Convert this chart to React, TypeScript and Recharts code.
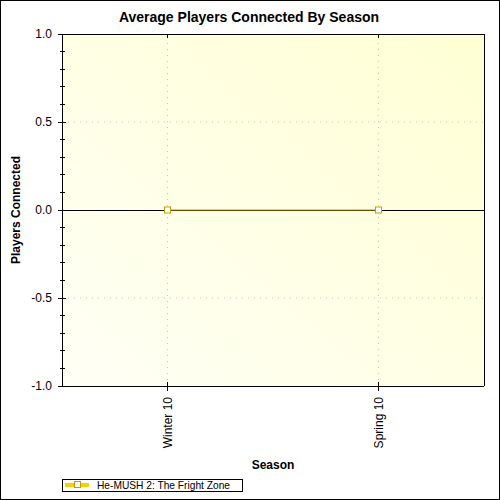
import { LineChart, Line, XAxis, YAxis, ReferenceLine, CartesianGrid } from 'recharts';

const SEASONS = ['Winter 10', 'Spring 10'];
const PLAYERS_CONNECTED = [0, 0];
const Y_TICKS = [
  -1.0, -0.9, -0.8, -0.7, -0.6, -0.5, -0.4, -0.3, -0.2, -0.1, 0, 0.1, 0.2, 0.3, 0.4, 0.5, 0.6, 0.7, 0.8, 0.9, 1.0
];
const GRID_Y = [-0.5, 0.5];
const SERIES_NAME = 'He-MUSH 2: The Fright Zone';
const TITLE = 'Average Players Connected By Season';
const X_TITLE = 'Season';
const Y_TITLE = 'Players Connected';

const FONT = '"Liberation Sans", Arial, sans-serif';
const LINE_COLOR = '#c89b00';
const LEGEND_BAR = '#f2d200';
const GRID_COLOR = '#c4c4c4';

const rows = SEASONS.map((season, i) => ({ season, players: PLAYERS_CONNECTED[i] }));

const isMajor = (v: number) => Math.abs(v * 2 - Math.round(v * 2)) < 1e-6;

const LeftTick = (props: any) => {
  const { x, y, payload } = props;
  const major = isMajor(payload.value);
  return (
    <g>
      <line x1={x - (major ? 4 : 2)} x2={x + (major ? 4 : 3)} y1={y} y2={y} stroke="#000" shapeRendering="crispEdges" />
      {major && (
        <text x={x - 10} y={y} dy={4} textAnchor="end" fontSize={12} fontFamily={FONT} fill="#000">
          {Number(payload.value).toFixed(1)}
        </text>
      )}
    </g>
  );
};

const RightTick = (props: any) => {
  const { x, y, payload } = props;
  const major = isMajor(payload.value);
  return <line x1={x - (major ? 5 : 3)} x2={x} y1={y} y2={y} stroke="#000" shapeRendering="crispEdges" />;
};

const BottomTick = (props: any) => {
  const { x, y, payload } = props;
  const ty = y + 11;
  return (
    <g>
      <line x1={x} x2={x} y1={y - 4} y2={y + 5} stroke="#000" shapeRendering="crispEdges" />
      <text
        x={x}
        y={ty}
        dy={4}
        textAnchor="end"
        fontSize={12}
        fontFamily={FONT}
        fill="#000"
        transform={`rotate(-90, ${x}, ${ty})`}
      >
        {payload.value}
      </text>
    </g>
  );
};

const TopTick = (props: any) => {
  const { x, y } = props;
  return <line x1={x} x2={x} y1={y} y2={y + 4} stroke="#000" shapeRendering="crispEdges" />;
};

const SquareDot = (props: any) => {
  const { cx, cy, index } = props;
  return (
    <rect key={`dot-${index}`} x={cx - 3} y={cy - 3} width={6} height={6} fill="#fff" stroke={LINE_COLOR} strokeWidth={1} />
  );
};

const axisLineStyle = { stroke: '#000', shapeRendering: 'crispEdges' };

export default function App() {
  return (
    <div style={{ position: 'absolute', left: 0, top: 0, width: 500, height: 500, background: '#fff' }}>
      <LineChart width={500} height={500} data={rows} margin={{ top: 33, right: 15, bottom: 113, left: 61 }}>
        <defs>
          <linearGradient id="plotBg" x1="0" y1="1" x2="1" y2="0">
            <stop offset="0%" stopColor="#fffff6" />
            <stop offset="100%" stopColor="#ffffd4" />
          </linearGradient>
        </defs>
        <XAxis
          xAxisId="bottom"
          dataKey="season"
          height={1}
          padding={{ left: 105.5, right: 105.5 }}
          interval={0}
          tickSize={0}
          tickMargin={0}
          tickLine={false}
          tick={BottomTick}
          axisLine={axisLineStyle}
        />
        <XAxis
          xAxisId="top"
          orientation="top"
          dataKey="season"
          height={1}
          padding={{ left: 105.5, right: 105.5 }}
          interval={0}
          tickSize={0}
          tickMargin={0}
          tickLine={false}
          tick={TopTick}
          axisLine={axisLineStyle}
        />
        <YAxis
          yAxisId="left"
          type="number"
          domain={[-1, 1]}
          ticks={Y_TICKS}
          width={1}
          interval={0}
          tickSize={0}
          tickMargin={0}
          tickLine={false}
          tick={LeftTick}
          axisLine={axisLineStyle}
        />
        <YAxis
          yAxisId="right"
          orientation="right"
          type="number"
          domain={[-1, 1]}
          ticks={Y_TICKS}
          width={1}
          interval={0}
          tickSize={0}
          tickMargin={0}
          tickLine={false}
          tick={RightTick}
          axisLine={axisLineStyle}
        />
        <CartesianGrid
          xAxisId="bottom"
          yAxisId="left"
          horizontal={false}
          vertical={false}
          fill="url(#plotBg)"
          fillOpacity={1}
        />
        {GRID_Y.map((v) => (
          <ReferenceLine
            key={`gy-${v}`}
            xAxisId="bottom"
            yAxisId="left"
            y={v}
            stroke={GRID_COLOR}
            strokeDasharray="1 5"
          />
        ))}
        {SEASONS.map((s) => (
          <ReferenceLine
            key={`gx-${s}`}
            xAxisId="bottom"
            yAxisId="left"
            x={s}
            stroke={GRID_COLOR}
            strokeDasharray="1 5"
          />
        ))}
        <ReferenceLine xAxisId="bottom" yAxisId="left" y={0} stroke="#000" shapeRendering="crispEdges" />
        <Line
          xAxisId="bottom"
          yAxisId="left"
          type="linear"
          dataKey="players"
          name={SERIES_NAME}
          stroke={LINE_COLOR}
          strokeWidth={1.2}
          dot={SquareDot}
          activeDot={false}
          isAnimationActive={false}
        />
      </LineChart>
      <svg
        width={500}
        height={500}
        style={{ position: 'absolute', left: 0, top: 0, pointerEvents: 'none' }}
        fontFamily={FONT}
      >
        <rect x={0.5} y={0.5} width={499} height={499} fill="none" stroke="#000" />
        <text x={249} y={22} textAnchor="middle" fontSize={14} fontWeight="bold" fill="#000">
          {TITLE}
        </text>
        <text x={273} y={469} textAnchor="middle" fontSize={12} fontWeight="bold" fill="#000">
          {X_TITLE}
        </text>
        <text
          x={20}
          y={210}
          textAnchor="middle"
          fontSize={12}
          fontWeight="bold"
          fill="#000"
          transform="rotate(-90, 20, 210)"
        >
          {Y_TITLE}
        </text>
        <rect x={62.5} y={479.5} width={180} height={12} fill="#fff" stroke="#000" />
        <rect x={65} y={483} width={24} height={4} fill={LEGEND_BAR} />
        <rect x={74.5} y={481.5} width={6} height={6} fill="#fff" stroke={LINE_COLOR} />
        <text x={97} y={489} fontSize={11.5} fill="#000" textLength={133} lengthAdjust="spacingAndGlyphs">
          {SERIES_NAME}
        </text>
      </svg>
    </div>
  );
}
